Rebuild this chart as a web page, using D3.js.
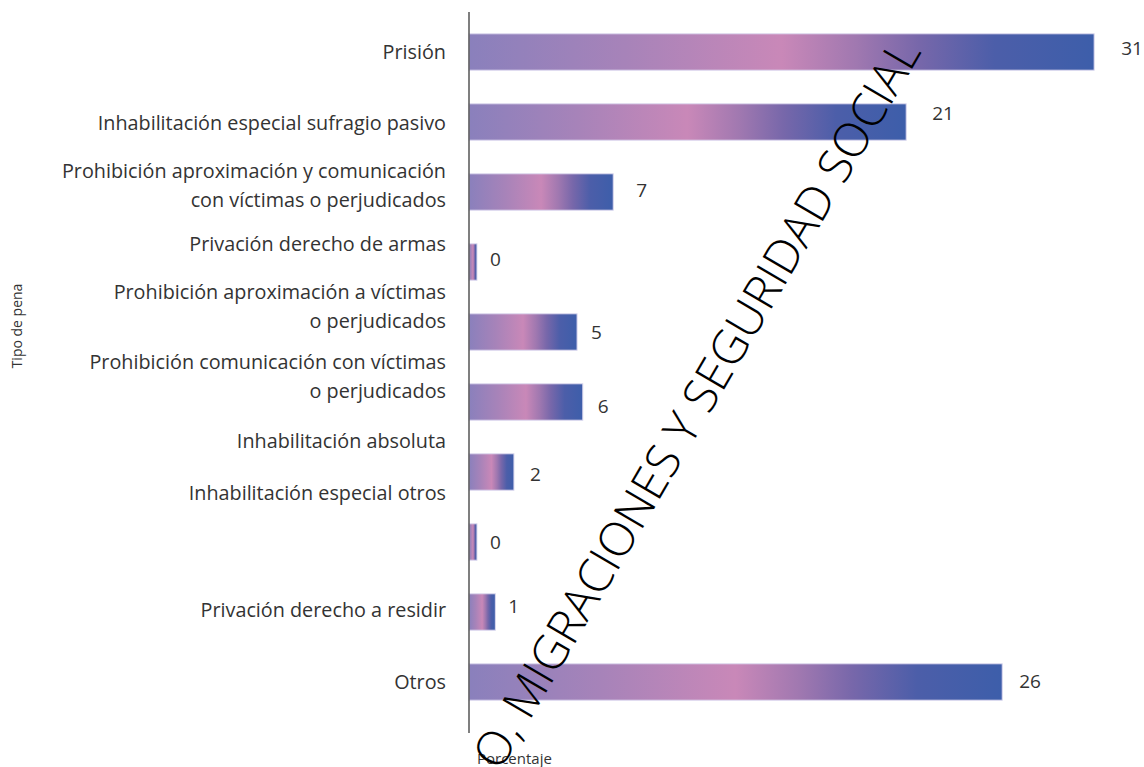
<!DOCTYPE html>
<html>
<head>
<meta charset="utf-8">
<script src="https://cdn.jsdelivr.net/npm/d3@7/dist/d3.min.js"></script>
<style>
  html, body { margin: 0; padding: 0; background: #ffffff; }
  svg { display: block; }
  text { font-family: "Open Sans", "Noto Sans", sans-serif; }
</style>
</head>
<body>
<svg id="chart" width="1144" height="767"></svg>
<script>
// ---- data ----
const categories = [
  "Prisión",
  "Inhabilitación especial sufragio pasivo",
  "Prohibición aproximación y comunicación\ncon víctimas o perjudicados",
  "Privación derecho de armas",
  "Prohibición aproximación a víctimas\no perjudicados",
  "Prohibición comunicación con víctimas\no perjudicados",
  "Inhabilitación absoluta",
  "Inhabilitación especial otros",
  "Privación derecho a residir",
  "Otros"
];
const values = [30.6, 21.4, 7.06, 0.39, 5.29, 5.57, 2.2, 0.39, 1.29, 26.1];
const valueLabels = ["31", "21", "7", "0", "5", "6", "2", "0", "1", "26"];
// placement quirks of the reference (label offsets relative to their bar)
const labelNudge = [-1, 0, -7, -19, -26, -26, -32, -50, -3, -1];
const valueGap = [27, 26, 23, 13, 14, 15, 16, 13, 13, 17];
const valueNudge = [-4, -9, -2, -3, 0, 4, 2, 0, -6, -1];
const xTitle = "Porcentaje";
const yTitle = "Tipo de pena";
const watermark = "O, MIGRACIONES Y SEGURIDAD SOCIAL";

// ---- layout ----
const svg = d3.select("#chart");
const axisX = 469;
const x = d3.scaleLinear().domain([0, 32]).range([axisX, axisX + 32 * 20.43]);
const y = d3.scaleBand().domain(categories).range([17, 717]).paddingInner(0.48).paddingOuter(0.24);

// gradient
const defs = svg.append("defs");
const grad = defs.append("linearGradient").attr("id", "barGrad")
  .attr("x1", "0%").attr("x2", "100%").attr("y1", "0%").attr("y2", "0%");
[
  [0, "#8a80bc"], [0.25, "#a783b9"], [0.5, "#c988b8"], [0.62, "#a078b0"],
  [0.72, "#7767aa"], [0.84, "#4c5ea9"], [1, "#3d5eaa"]
].forEach(([o, c]) => grad.append("stop").attr("offset", o).attr("stop-color", c));

// bars
svg.append("g").selectAll("rect").data(categories).join("rect")
  .attr("x", x(0))
  .attr("y", d => y(d))
  .attr("width", (d, i) => x(values[i]) - x(0))
  .attr("height", y.bandwidth())
  .attr("fill", "url(#barGrad)")
  .attr("stroke", "#dcd8ef")
  .attr("stroke-width", 1);

// value labels
svg.append("g").selectAll("text").data(categories).join("text")
  .attr("x", (d, i) => x(values[i]) + valueGap[i])
  .attr("y", (d, i) => y(d) + y.bandwidth() / 2 + valueNudge[i])
  .attr("dominant-baseline", "central")
  .attr("font-size", 19)
  .attr("fill", "#333")
  .text((d, i) => valueLabels[i]);

// category labels
const lineH = 29;
const cl = svg.append("g").selectAll("text").data(categories).join("text")
  .attr("text-anchor", "end")
  .attr("font-size", 19.8)
  .attr("fill", "#333");
cl.each(function (d, i) {
  const lines = d.split("\n");
  const cy = y(d) + y.bandwidth() / 2 + labelNudge[i];
  const t = d3.select(this);
  lines.forEach((ln, k) => {
    t.append("tspan")
      .attr("x", 446)
      .attr("y", cy + (k - (lines.length - 1) / 2) * lineH)
      .attr("dominant-baseline", "central")
      .text(ln);
  });
});

// y axis line
svg.append("line")
  .attr("x1", axisX).attr("x2", axisX)
  .attr("y1", 12).attr("y2", 733)
  .attr("stroke", "#555").attr("stroke-width", 1.5);

// axis titles
svg.append("text")
  .attr("transform", "translate(16,326) rotate(-90)")
  .attr("text-anchor", "middle")
  .attr("dominant-baseline", "central")
  .attr("font-size", 14)
  .attr("fill", "#333")
  .text(yTitle);

svg.append("text")
  .attr("x", 477).attr("y", 758)
  .attr("dominant-baseline", "central")
  .attr("font-size", 15)
  .attr("fill", "#333")
  .text(xTitle);

// watermark
const wmFont = '"Lato", "Inter", sans-serif';
const probe = svg.append("text").attr("font-family", wmFont).attr("font-weight", 300)
  .attr("font-size", 40).text(watermark);
const probeLen = probe.node().getComputedTextLength();
probe.remove();
const wmSize = 40 * 835 / probeLen;
svg.append("text")
  .attr("transform", "translate(922,52) rotate(-59.6)")
  .attr("text-anchor", "end")
  .attr("font-family", wmFont)
  .attr("font-weight", 300)
  .attr("font-size", wmSize)
  .attr("fill", "#000")
  .text(watermark);
</script>
</body>
</html>
